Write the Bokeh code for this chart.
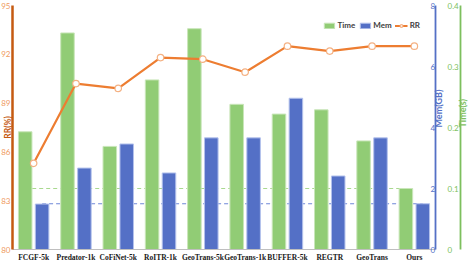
import math
from bokeh.plotting import figure
from bokeh.models import (Range1d, LinearAxis, FactorRange, FixedTicker,
                          ColumnDataSource, Legend, LegendItem)
from bokeh.transform import dodge
from bokeh.embed import file_html
from bokeh.resources import INLINE

# ---------------- data ----------------
categories = ["FCGF-5k", "Predator-1k", "CoFiNet-5k", "RoITR-1k", "GeoTrans-5k",
              "GeoTrans-1k", "BUFFER-5k", "REGTR", "GeoTrans", "Ours"]
time_s = [0.193, 0.355, 0.169, 0.278, 0.362, 0.238, 0.222, 0.229, 0.178, 0.100]
mem_gb = [1.49, 2.67, 3.46, 2.51, 3.66, 3.66, 4.96, 2.41, 3.66, 1.50]
rr = [85.3, 90.2, 89.9, 91.8, 91.7, 90.9, 92.5, 92.2, 92.5, 92.5]
rr_ticks = [80, 83, 86, 89, 92, 95]
mem_ticks = [0, 2, 4, 6, 8]
time_ticks = [0, 0.1, 0.2, 0.3, 0.4]

GREEN = "#91cc75"
BLUE = "#5470c6"
ORANGE = "#ed7d31"
DARK_ORANGE = "#c55a11"
TIME_AX = "#7dbf5e"
SANS = "Lato"
SERIF = "Liberation Serif"

src = ColumnDataSource(dict(cat=categories, time=time_s, mem=mem_gb, rr=rr))

p = figure(width=476, height=264, x_range=FactorRange(*categories),
           y_range=Range1d(rr_ticks[0], rr_ticks[-1]),
           output_backend="svg", toolbar_location=None,
           min_border_left=0, min_border_right=0, min_border_top=5, min_border_bottom=0)
p.extra_y_ranges = {"mem": Range1d(mem_ticks[0], mem_ticks[-1]),
                    "time": Range1d(time_ticks[0], time_ticks[-1])}
p.outline_line_color = None
p.xgrid.grid_line_color = None
p.ygrid.grid_line_color = None
p.background_fill_color = "white"

# ---------------- dashed reference lines (behind bars) ----------------
ref_t = ColumnDataSource(dict(cat=[categories[0], categories[-1]], y=[time_s[-1]] * 2))
ref_m = ColumnDataSource(dict(cat=[categories[0], categories[-1]], y=[mem_gb[-1]] * 2))
p.line(x=dodge("cat", -0.2, range=p.x_range), y="y", source=ref_t, y_range_name="time",
       line_color="#a9d98f", line_width=1.2, line_dash="4 3")
p.line(x=dodge("cat", 0.2, range=p.x_range), y="y", source=ref_m, y_range_name="mem",
       line_color="#6f88d8", line_width=1.2, line_dash="4 3")

# ---------------- bars ----------------
g = p.vbar(x=dodge("cat", -0.2, range=p.x_range), top="time", width=0.32, source=src,
           y_range_name="time", fill_color=GREEN, line_color="#c9e6b9", line_width=1)
b = p.vbar(x=dodge("cat", 0.2, range=p.x_range), top="mem", width=0.32, source=src,
           y_range_name="mem", fill_color=BLUE, line_color="#b4c2ec", line_width=1)

# ---------------- RR line ----------------
ln = p.line("cat", "rr", source=src, line_color=ORANGE, line_width=2.2)
mk = p.scatter("cat", "rr", source=src, marker="circle", size=6.5,
               fill_color="white", line_color="#f4b183", line_width=1.2)

# ---------------- axes ----------------
xa = p.xaxis[0]
xa.axis_line_color = "#bfbfbf"
xa.axis_line_width = 1
xa.major_tick_line_color = None
xa.minor_tick_line_color = None
xa.major_tick_out = 0
xa.major_tick_in = 0
xa.major_label_standoff = 3
xa.major_label_text_font = SERIF
xa.major_label_text_font_style = "bold"
xa.major_label_text_font_size = "7.5px"
xa.major_label_text_color = "#1a1a1a"

ya = p.yaxis[0]
ya.ticker = FixedTicker(ticks=rr_ticks)
ya.axis_line_color = DARK_ORANGE
ya.axis_line_width = 2.5
ya.major_tick_line_color = None
ya.minor_tick_line_color = None
ya.major_tick_out = 0
ya.major_tick_in = 0
ya.major_label_standoff = 2
ya.major_label_text_font = SANS
ya.major_label_text_font_size = "8px"
ya.major_label_text_color = "#ef9a5e"
ya.axis_label = "RR(%)"
ya.axis_label_text_font = SANS
ya.axis_label_text_font_style = "bold"
ya.axis_label_text_font_size = "8.5px"
ya.axis_label_text_color = DARK_ORANGE
ya.axis_label_standoff = -15


def right_axis(rng, ticks, color, label, lab_standoff, ax_standoff, overrides=None):
    ax = LinearAxis(y_range_name=rng, ticker=FixedTicker(ticks=ticks))
    ax.axis_line_color = color
    ax.axis_line_width = 1.8
    ax.major_tick_line_color = None
    ax.minor_tick_line_color = None
    ax.major_tick_out = 0
    ax.major_tick_in = 0
    ax.major_label_standoff = lab_standoff
    ax.major_label_text_font = SANS
    ax.major_label_text_font_size = "8px"
    ax.major_label_text_color = color
    if overrides:
        ax.major_label_overrides = overrides
    ax.axis_label = label
    ax.axis_label_text_font = SANS
    ax.axis_label_text_font_style = "bold"
    ax.axis_label_text_font_size = "9px"
    ax.axis_label_text_line_height = 0.8
    ax.axis_label_text_color = color
    ax.axis_label_standoff = ax_standoff
    ax.axis_label_orientation = math.pi / 2
    return ax


mem_ax = right_axis("mem", mem_ticks, BLUE, "Mem(GB)", -5, 0)
p.add_layout(mem_ax, "right")
# blank gap between the two right-hand axes
spacer = LinearAxis(y_range_name="mem", ticker=FixedTicker(ticks=[mem_ticks[2]]),
                    major_label_overrides={mem_ticks[2]: ""},
                    axis_line_color=None, major_tick_line_color=None,
                    minor_tick_line_color=None, major_tick_out=8, major_tick_in=0)
p.add_layout(spacer, "right")
time_ax = right_axis("time", time_ticks, TIME_AX, "Time(s)", -13, 1, {0: "0"})
p.add_layout(time_ax, "right")

# ---------------- legend ----------------
legend = Legend(items=[LegendItem(label="Time", renderers=[g]),
                       LegendItem(label="Mem", renderers=[b]),
                       LegendItem(label="RR", renderers=[ln, mk])],
                orientation="horizontal", location="top_right",
                border_line_color=None, background_fill_alpha=0,
                label_text_font=SANS, label_text_font_style="bold",
                label_text_font_size="8px", label_text_color="#404040",
                glyph_width=13, glyph_height=7, label_height=10, label_width=10,
                label_standoff=2, spacing=3, padding=2, margin=15)
p.add_layout(legend)

open("out.html", "w").write(file_html(p, INLINE))
